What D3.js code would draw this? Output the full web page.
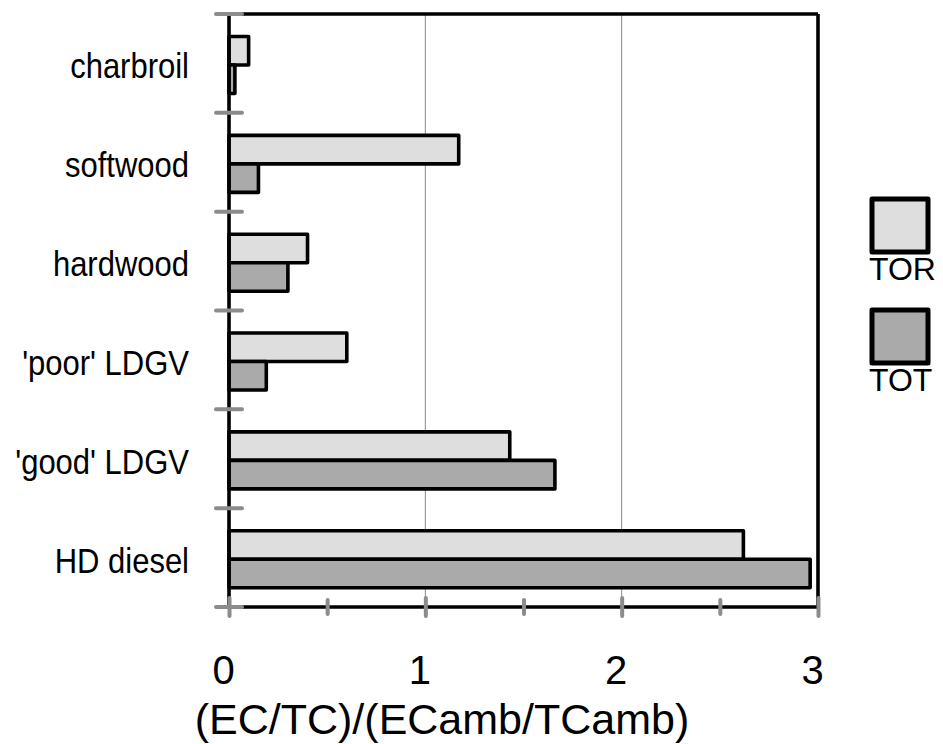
<!DOCTYPE html>
<html>
<head>
<meta charset="utf-8">
<script src="https://cdn.jsdelivr.net/npm/d3@7/dist/d3.min.js"></script>
<style>
  html, body { margin: 0; padding: 0; background: #ffffff; }
  svg { display: block; }
  text { font-family: "Liberation Sans", Arial, sans-serif; fill: #000; }
</style>
</head>
<body>
<svg id="chart" width="943" height="744"></svg>
<script>
// Source categories, listed top to bottom
const categories = ["charbroil", "softwood", "hardwood", "'poor' LDGV", "'good' LDGV", "HD diesel"];
// Ratio (EC/TC)/(ECamb/TCamb) for each method
const torValues = [0.10, 1.17, 0.40, 0.60, 1.43, 2.62];
const totValues = [0.03, 0.15, 0.30, 0.19, 1.66, 2.96];
const seriesNames = ["TOR", "TOT"];
const seriesFills = ["#dedede", "#aaaaaa"];
const xTicks = [0, 1, 2, 3];
const xMinorTicks = [0.5, 1.5, 2.5];
const gridValues = [1, 2];
const xTitle = "(EC/TC)/(ECamb/TCamb)";

const svg = d3.select("#chart");
const plotLeft = 229, plotRight = 818, plotTop = 14, plotBottom = 607;
const tickGrey = "#8c8c8c";

const x = d3.scaleLinear().domain([0, 3]).range([plotLeft, plotRight]);
const y = d3.scaleBand().domain(categories).range([plotTop, plotBottom]).padding(0);
const bw = y.bandwidth();
const ySub = d3.scaleBand().domain(seriesNames).range([bw * 0.228, bw * 0.805]).padding(0);

const rows = categories.map((c, i) => ({ cat: c, values: [torValues[i], totValues[i]] }));

// vertical gridlines
svg.append("g").selectAll("line").data(gridValues).join("line")
  .attr("x1", d => x(d)).attr("x2", d => x(d))
  .attr("y1", plotTop).attr("y2", plotBottom)
  .attr("stroke", "#8a8a8a").attr("stroke-width", 1);

// bars
const groups = svg.append("g").selectAll("g").data(rows).join("g")
  .attr("transform", d => `translate(0,${y(d.cat)})`);
groups.selectAll("rect")
  .data(d => d.values.map((v, k) => ({ s: seriesNames[k], v, k })))
  .join("rect")
  .attr("x", x(0))
  .attr("y", d => ySub(d.s))
  .attr("width", d => x(d.v) - x(0))
  .attr("height", ySub.bandwidth())
  .attr("fill", d => seriesFills[d.k])
  .attr("stroke", "#000").attr("stroke-width", 3.6)
  .attr("stroke-linejoin", "round");

// frame
const frame = svg.append("g").attr("fill", "none").attr("stroke", "#000").attr("stroke-width", 3.6);
frame.append("line").attr("x1", plotLeft).attr("x2", plotRight).attr("y1", plotTop).attr("y2", plotTop);
frame.append("line").attr("x1", plotRight).attr("x2", plotRight).attr("y1", plotTop).attr("y2", plotBottom);
frame.append("line").attr("x1", plotLeft).attr("x2", plotRight).attr("y1", plotBottom).attr("y2", plotBottom);
frame.append("line").attr("x1", plotLeft).attr("x2", plotLeft).attr("y1", plotTop).attr("y2", plotBottom);

// category boundary ticks crossing the left axis
const boundaries = categories.map(c => y(c)).concat([plotBottom]);
svg.append("g").selectAll("line").data(boundaries).join("line")
  .attr("x1", plotLeft - 13).attr("x2", plotLeft + 13)
  .attr("y1", d => d).attr("y2", d => d)
  .attr("stroke", tickGrey).attr("stroke-width", 4).attr("stroke-linecap", "round");

// x axis: major ticks with labels
const xAxis = svg.append("g").attr("transform", `translate(0,${plotBottom})`)
  .call(d3.axisBottom(x).tickValues(xTicks).tickFormat(d3.format("d")).tickSizeOuter(0));
xAxis.select(".domain").remove();
xAxis.selectAll(".tick line")
  .attr("y1", -9).attr("y2", 9)
  .attr("stroke", tickGrey).attr("stroke-width", 4).attr("stroke-linecap", "round");
xAxis.selectAll(".tick text")
  .attr("y", 77).attr("dy", 0).attr("dx", -6)
  .attr("font-size", 40)
  .attr("font-family", "Liberation Sans, Arial, sans-serif")
  .attr("fill", "#000");

// x axis: minor ticks
const xMinor = svg.append("g").attr("transform", `translate(0,${plotBottom})`)
  .call(d3.axisBottom(x).tickValues(xMinorTicks).tickFormat("").tickSizeOuter(0));
xMinor.select(".domain").remove();
xMinor.selectAll(".tick line")
  .attr("y1", -7).attr("y2", 7)
  .attr("stroke", tickGrey).attr("stroke-width", 4).attr("stroke-linecap", "round");

// category labels
svg.append("g").selectAll("text").data(categories).join("text")
  .attr("text-anchor", "end")
  .attr("font-size", 31)
  .attr("transform", d => `translate(189,${y(d) + bw / 2 + 15}) scale(1,1.13)`)
  .text(d => d);

// axis title
svg.append("text")
  .attr("x", 442).attr("y", 734)
  .attr("text-anchor", "middle")
  .attr("font-size", 43)
  .text(xTitle);

// legend
const legendY = [199, 310];
const legend = svg.append("g").selectAll("g").data(seriesNames).join("g")
  .attr("transform", (d, i) => `translate(872,${legendY[i]})`);
legend.append("rect")
  .attr("width", 56).attr("height", 53)
  .attr("fill", (d, i) => seriesFills[i])
  .attr("stroke", "#000").attr("stroke-width", 5).attr("stroke-linejoin", "round");
legend.append("text")
  .attr("x", -3).attr("y", 81)
  .attr("font-size", 32)
  .text(d => d);
</script>
</body>
</html>
